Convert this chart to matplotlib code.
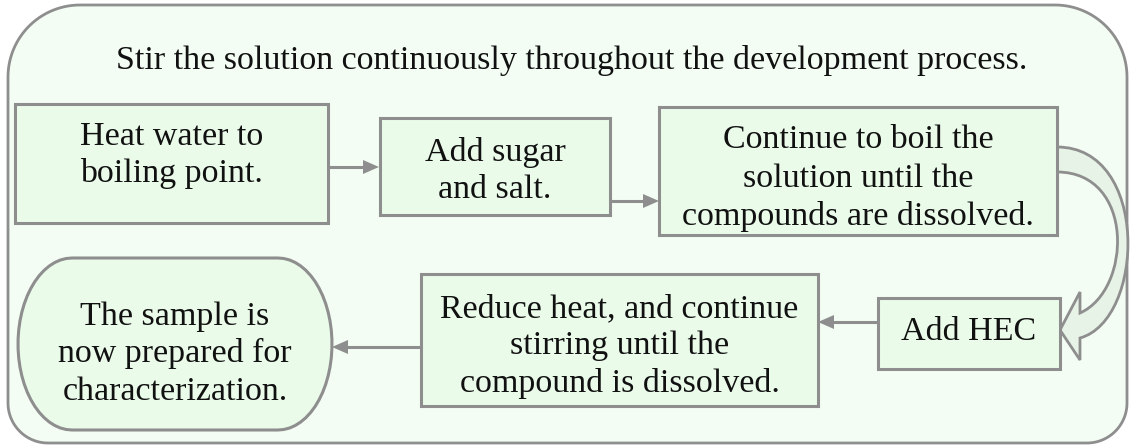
import numpy as np
import matplotlib.pyplot as plt
from matplotlib.patches import Rectangle, PathPatch, Polygon
from matplotlib.path import Path

# texts of the flow chart
title = "Stir the solution continuously throughout the development process."
step_texts = [
    ["Heat water to", "boiling point."],
    ["Add sugar", "and salt."],
    ["Continue to boil the", "solution until the", "compounds are dissolved."],
    ["Add HEC"],
    ["Reduce heat, and continue", "stirring until the", "compound is dissolved."],
    ["The sample is", "now prepared for", "characterization."],
]

edge = "#8e8e8e"
box_fill = "#eafbea"
back_fill = "#f3fdf3"
font = dict(family=["Liberation Serif", "DejaVu Serif"], size=24.5, color="#111111")

fig = plt.figure(figsize=(11.3, 4.45), dpi=100)
ax = fig.add_axes([0, 0, 1, 1])
ax.set_xlim(0, 1130)
ax.set_ylim(445, 0)
ax.axis("off")


def quarter(cx, cy, rx, ry, a0, a1, n=30):
    t = np.radians(np.linspace(a0, a1, n))
    return list(zip(cx + rx * np.cos(t), cy + ry * np.sin(t)))


# background panel: big round top corners, smaller bottom corners
x0, x1, y0, y1 = 8, 1127, 5, 443
rt, rb = 72, 40
pts = []
pts += quarter(x0 + rt, y0 + rt, rt, rt, 180, 270)
pts += quarter(x1 - rt, y0 + rt, rt, rt, 270, 360)
pts += quarter(x1 - rb, y1 - rb, rb, rb, 0, 90)
pts += quarter(x0 + rb, y1 - rb, rb, rb, 90, 180)
ax.add_patch(Polygon(pts, closed=True, facecolor=back_fill, edgecolor=edge, lw=2.0, zorder=1))

ax.text(572, 69, title, ha="center", va="baseline", **font, zorder=5)

# rectangular boxes: (left, top, right, bottom), text baselines
boxes = [
    ((15, 104, 328, 223), [145, 182]),
    ((380, 118, 610, 215), [161, 198]),
    ((659, 107, 1057, 235), [148, 187, 225]),
    ((878, 298, 1060, 369), [340]),
    ((421, 274, 818, 406), [317, 354, 392]),
]
for ((l, t, r, b), bases), lines in zip(boxes, step_texts[:5]):
    ax.add_patch(Rectangle((l, t), r - l, b - t, facecolor=box_fill, edgecolor=edge, lw=2.2, zorder=3))
    for yb, s in zip(bases, lines):
        ax.text((l + r) / 2, yb, s, ha="center", va="baseline", **font, zorder=5)

# terminator shape (final step)
ol, ot, orr, ob = 18, 258, 332, 430
rx, ry = 54, (ob - ot) / 2
cy = (ot + ob) / 2
pts = []
pts += quarter(orr - rx, cy, rx, ry, -90, 90)
pts += quarter(ol + rx, cy, rx, ry, 90, 270)
ax.add_patch(Polygon(pts, closed=True, facecolor=box_fill, edgecolor=edge, lw=2.2, zorder=3))
for yb, s in zip([325, 362, 400], step_texts[5]):
    ax.text((ol + orr) / 2, yb, s, ha="center", va="baseline", **font, zorder=5)


def arrow(xa, xb, y):
    d = 1 if xb > xa else -1
    ax.plot([xa, xb - d * 14], [y, y], color=edge, lw=2.2, solid_capstyle="butt", zorder=4)
    ax.add_patch(Polygon([(xb, y), (xb - d * 16, y - 7), (xb - d * 16, y + 7)],
                         closed=True, facecolor=edge, edgecolor="none", zorder=4))


arrow(328, 379, 167)
arrow(610, 659, 201)
arrow(878, 818, 322)
arrow(421, 332, 347)

# curved arrow from box 3 to the HEC box
verts = [(1057, 147), (1150, 147), (1145, 320), (1080, 338),
         (1080, 360), (1060, 330), (1080, 292), (1080, 313),
         (1132, 290), (1135, 172), (1057, 172), (1057, 147)]
codes = [Path.MOVETO, Path.CURVE4, Path.CURVE4, Path.CURVE4,
         Path.LINETO, Path.LINETO, Path.LINETO, Path.LINETO,
         Path.CURVE4, Path.CURVE4, Path.CURVE4, Path.CLOSEPOLY]
ax.add_patch(PathPatch(Path(verts, codes), facecolor="#e6f3e6", edgecolor=edge, lw=2.0, zorder=2))

fig.savefig("out.png", dpi=100)
